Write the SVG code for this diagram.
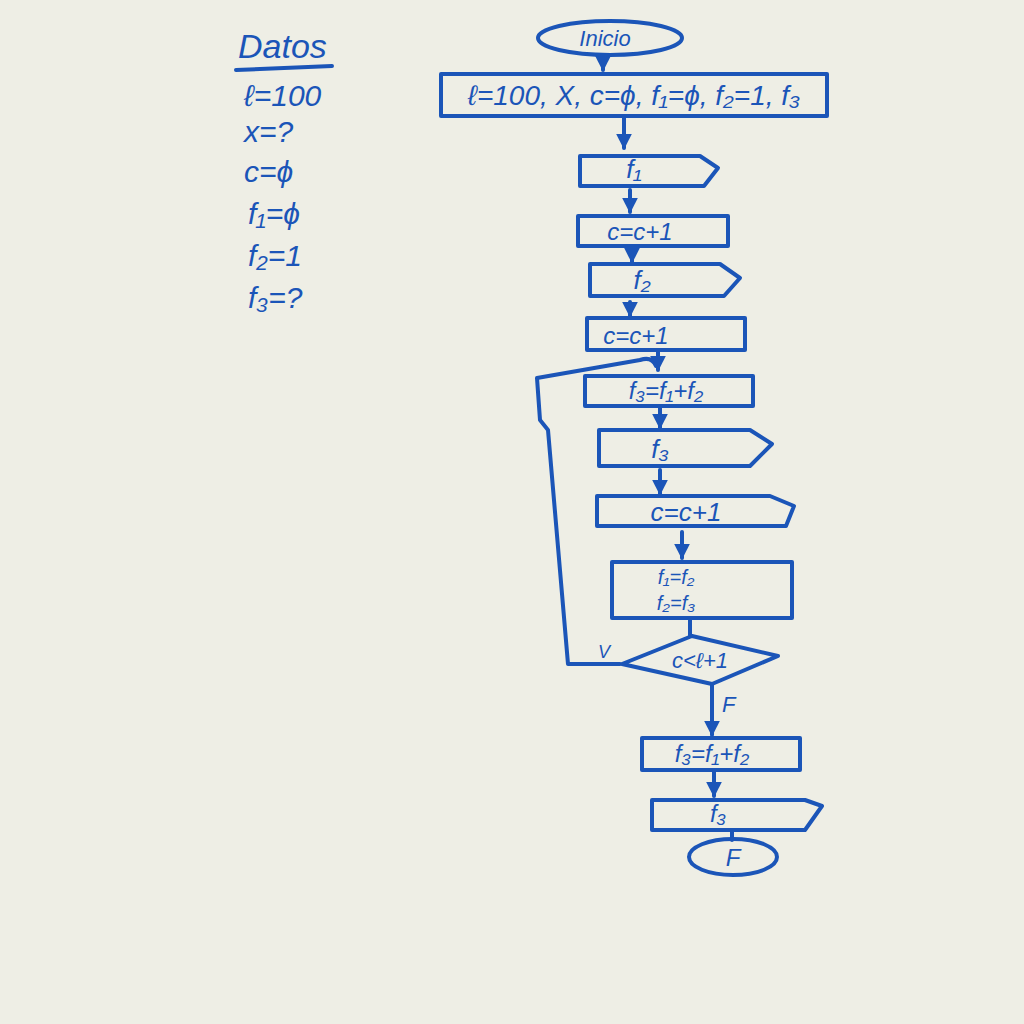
<svg xmlns="http://www.w3.org/2000/svg" width="1024" height="1024" viewBox="0 0 1024 1024">
<style>
.s{fill:none;stroke:#1b55b8;stroke-width:4;stroke-linejoin:round;stroke-linecap:round}
.t{fill:#1b55b8;font-family:"Liberation Sans","DejaVu Sans",sans-serif;font-style:italic}
.c{text-anchor:middle}
</style>
<defs>
<marker id="ah" viewBox="0 0 10 10" refX="9" refY="5" markerWidth="4" markerHeight="4" orient="auto">
<path d="M0,0 L10,5 L0,10 Z" fill="#1b55b8"/>
</marker>
</defs>
<rect width="1024" height="1024" fill="#eeeee5"/>

<g id="datos">
<text class="t" x="238" y="58" font-size="34">Datos</text>
<path class="s" d="M236,70 L332,66"/>
<text class="t" x="244" y="106" font-size="30">ℓ=100</text>
<text class="t" x="244" y="142" font-size="30">x=?</text>
<text class="t" x="244" y="182" font-size="30">c=ϕ</text>
<text class="t" x="248" y="224" font-size="30">f₁=ϕ</text>
<text class="t" x="248" y="266" font-size="30">f₂=1</text>
<text class="t" x="248" y="308" font-size="30">f₃=?</text>
</g>

<g id="connectors">
<path class="s" d="M603,56 V70" marker-end="url(#ah)"/>
<path class="s" d="M624,117 V148" marker-end="url(#ah)"/>
<path class="s" d="M630,190 V212" marker-end="url(#ah)"/>
<path class="s" d="M632,250 V262" marker-end="url(#ah)"/>
<path class="s" d="M630,302 V316" marker-end="url(#ah)"/>
<path class="s" d="M658,352 V370" marker-end="url(#ah)"/>
<path class="s" d="M660,408 V428" marker-end="url(#ah)"/>
<path class="s" d="M660,470 V494" marker-end="url(#ah)"/>
<path class="s" d="M682,532 V558" marker-end="url(#ah)"/>
<path class="s" d="M690,618 V636"/>
<path class="s" d="M620,664 H568 L548,430 L540,420 L537,378 L640,360 Q652,356 656,366"/>
<text class="t" x="598" y="658" font-size="18">V</text>
<path class="s" d="M712,685 V735" marker-end="url(#ah)"/>
<text class="t" x="722" y="712" font-size="22">F</text>
<path class="s" d="M714,772 V796" marker-end="url(#ah)"/>
<path class="s" d="M732,832 V840"/>
</g>

<g id="inicio">
<ellipse class="s" cx="610" cy="38" rx="72" ry="17"/>
<text class="t c" x="605" y="46" font-size="22">Inicio</text>
</g>

<g id="init">
<rect class="s" x="441" y="74" width="386" height="42"/>
<text class="t c" x="634" y="105" font-size="28">ℓ=100, X, c=ϕ, f₁=ϕ, f₂=1, f₃</text>
</g>

<g id="out-f1">
<path class="s" d="M580,156 H700 L718,168 L704,186 H580 Z"/>
<text class="t c" x="634" y="178" font-size="26">f₁</text>
</g>

<g id="c1">
<path class="s" d="M578,216 H728 V246 H578 Z"/>
<text class="t c" x="640" y="240" font-size="24">c=c+1</text>
</g>

<g id="out-f2">
<path class="s" d="M590,264 H720 L740,278 L724,296 H590 Z"/>
<text class="t c" x="642" y="289" font-size="26">f₂</text>
</g>

<g id="c2">
<path class="s" d="M587,318 H745 V350 H587 Z"/>
<text class="t c" x="636" y="344" font-size="24">c=c+1</text>
</g>

<g id="f3calc">
<path class="s" d="M585,376 H753 V406 H585 Z"/>
<text class="t c" x="666" y="399" font-size="24">f₃=f₁+f₂</text>
</g>

<g id="out-f3">
<path class="s" d="M599,430 H750 L772,444 L750,466 H599 Z"/>
<text class="t c" x="660" y="458" font-size="26">f₃</text>
</g>

<g id="c3">
<path class="s" d="M597,496 H770 L794,506 L786,526 H597 Z"/>
<text class="t c" x="686" y="521" font-size="26">c=c+1</text>
</g>

<g id="swap">
<path class="s" d="M612,562 H792 V618 H612 Z"/>
<text class="t c" x="676" y="584" font-size="20">f₁=f₂</text>
<text class="t c" x="676" y="610" font-size="20">f₂=f₃</text>
</g>

<g id="cond">
<path class="s" d="M692,636 L778,656 L712,684 L622,664 Z"/>
<text class="t c" x="700" y="668" font-size="22">c&lt;ℓ+1</text>
</g>

<g id="f3calc2">
<path class="s" d="M642,738 H800 V770 H642 Z"/>
<text class="t c" x="712" y="762" font-size="24">f₃=f₁+f₂</text>
</g>

<g id="out-f3b">
<path class="s" d="M652,800 H805 L822,806 L805,830 H652 Z"/>
<text class="t c" x="718" y="822" font-size="24">f₃</text>
</g>

<g id="fin">
<ellipse class="s" cx="733" cy="857" rx="44" ry="18"/>
<text class="t c" x="733" y="866" font-size="24">F</text>
</g>
</svg>
